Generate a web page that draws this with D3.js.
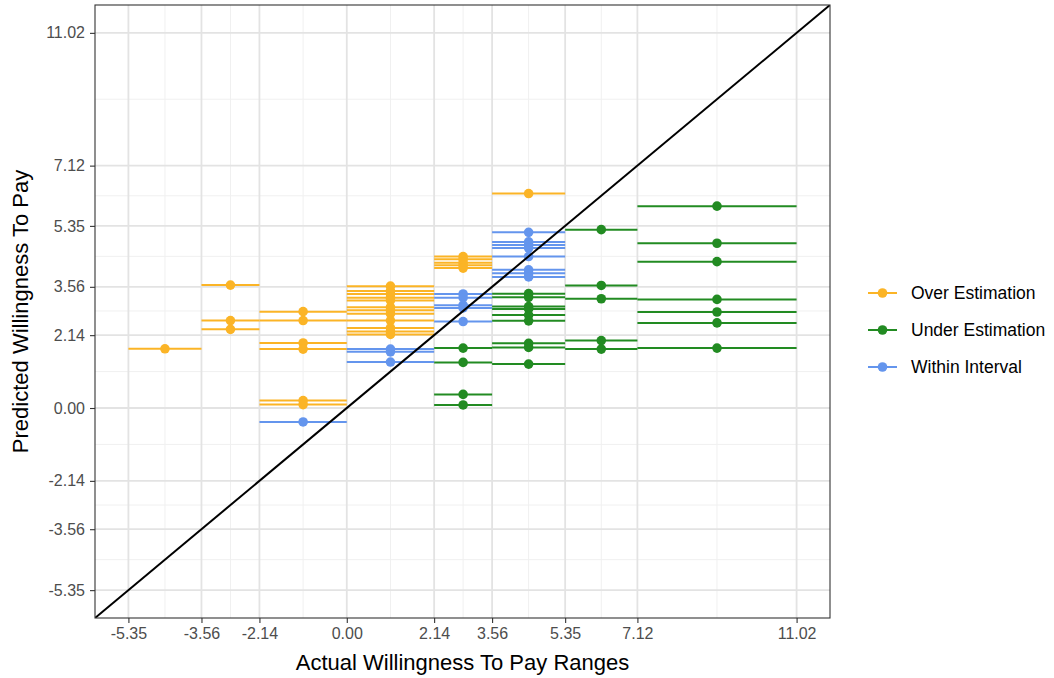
<!DOCTYPE html>
<html><head><meta charset="utf-8">
<script src="https://cdn.jsdelivr.net/npm/d3@7"></script>
<style>body{margin:0;background:#fff}svg{display:block}text{font-family:"Liberation Sans",Arial,sans-serif}</style>
</head><body><svg id="c" width="1054" height="678"></svg>
<script>
const breaks = [-5.35, -3.56, -2.14, 0.00, 2.14, 3.56, 5.35, 7.12, 11.02];
const tickLabels = ["-5.35","-3.56","-2.14","0.00","2.14","3.56","5.35","7.12","11.02"];
const categories = ["Over Estimation","Under Estimation","Within Interval"];
const colors = ["#FBB426","#228B22","#6495ED"];
// interval index -> [xmin,xmax] = [breaks[i], breaks[i+1]]
const overInterval = [0, 1,1,1, 2,2,2,2,2,2, 3,3,3,3,3,3,3,3,3,3,3,3, 4,4,4,4,4, 5];
const overValues   = [1.74, 3.61,2.57,2.31, 2.83,2.57,1.91,1.73,0.22,0.10, 3.58,3.44,3.35,3.24,3.16,2.96,2.87,2.77,2.57,2.35,2.25,2.16, 4.45,4.37,4.27,4.19,4.11, 6.30];
const underInterval = [4,4,4,4, 5,5,5,5,5,5,5,5,5, 6,6,6,6,6, 7,7,7,7,7,7,7];
const underValues   = [1.76,1.34,0.40,0.09, 3.36,3.25,2.98,2.91,2.73,2.56,1.90,1.78,1.29, 5.24,3.60,3.21,1.98,1.73, 5.93,4.84,4.30,3.19,2.82,2.50,1.76];
const withinInterval = [2, 3,3,3, 4,4,4,4,4, 5,5,5,5,5,5,5,5];
const withinValues   = [-0.41, 1.73,1.65,1.35, 3.35,3.24,3.02,2.94,2.54, 5.16,4.88,4.79,4.70,4.45,4.06,3.96,3.85];

const svg = d3.select("#c");
const L=95,R=830,T=5,B=618;
const lo=-5.35, hi=11.02, ex=(hi-lo)*0.05;
const x=d3.scaleLinear().domain([lo-ex,hi+ex]).range([L,R]);
const y=d3.scaleLinear().domain([lo-ex,hi+ex]).range([B,T]);
const minor=d3.range(breaks.length-1).map(i=>(breaks[i]+breaks[i+1])/2);

const g=svg.append("g");
g.append("rect").attr("x",L).attr("y",T).attr("width",R-L).attr("height",B-T).attr("fill","#fff");
g.selectAll(".mx").data(minor).join("line").attr("x1",d=>x(d)).attr("x2",d=>x(d)).attr("y1",T).attr("y2",B).attr("stroke","#f0f0f0").attr("stroke-width",1);
g.selectAll(".my").data(minor).join("line").attr("y1",d=>y(d)).attr("y2",d=>y(d)).attr("x1",L).attr("x2",R).attr("stroke","#f0f0f0").attr("stroke-width",1);
g.selectAll(".Mx").data(breaks).join("line").attr("x1",d=>x(d)).attr("x2",d=>x(d)).attr("y1",T).attr("y2",B).attr("stroke","#e3e3e3").attr("stroke-width",1.8);
g.selectAll(".My").data(breaks).join("line").attr("y1",d=>y(d)).attr("y2",d=>y(d)).attr("x1",L).attr("x2",R).attr("stroke","#e3e3e3").attr("stroke-width",1.8);

svg.append("clipPath").attr("id","pc").append("rect").attr("x",L).attr("y",T).attr("width",R-L).attr("height",B-T);
const series=[[overInterval,overValues],[underInterval,underValues],[withinInterval,withinValues]];
const dg=svg.append("g").attr("clip-path","url(#pc)");
series.forEach(([iv,vals],k)=>{
  const data=vals.map((v,j)=>({a:breaks[iv[j]],b:breaks[iv[j]+1],v}));
  dg.append("g").selectAll("line").data(data).join("line")
    .attr("x1",d=>x(d.a)).attr("x2",d=>x(d.b)).attr("y1",d=>y(d.v)).attr("y2",d=>y(d.v))
    .attr("stroke",colors[k]).attr("stroke-width",2);
  dg.append("g").selectAll("circle").data(data).join("circle")
    .attr("cx",d=>x((d.a+d.b)/2)).attr("cy",d=>y(d.v)).attr("r",4.8).attr("fill",colors[k]);
});
const dom=x.domain();
dg.append("line").attr("x1",x(dom[0])).attr("y1",y(dom[0])).attr("x2",x(dom[1])).attr("y2",y(dom[1])).attr("stroke","#000").attr("stroke-width",2);

svg.append("rect").attr("x",L).attr("y",T).attr("width",R-L).attr("height",B-T).attr("fill","none").attr("stroke","#333").attr("stroke-width",1.1);

const fmt=(d)=>tickLabels[breaks.indexOf(d)];
const xa=svg.append("g").attr("transform",`translate(0,${B})`).call(d3.axisBottom(x).tickValues(breaks).tickFormat(fmt).tickSize(5).tickPadding(5));
const ya=svg.append("g").attr("transform",`translate(${L},0)`).call(d3.axisLeft(y).tickValues(breaks).tickFormat(fmt).tickSize(5).tickPadding(5));
[xa,ya].forEach(a=>{a.select(".domain").remove();a.selectAll(".tick line").attr("stroke","#333").attr("stroke-width",1.1);
  a.selectAll(".tick text").attr("fill","#4d4d4d").style("font-size","16px").style("font-family","'Liberation Sans',Arial,sans-serif");});

svg.append("text").attr("x",(L+R)/2).attr("y",670).attr("text-anchor","middle").style("font-size","22px").attr("fill","#000").text("Actual Willingness To Pay Ranges");
svg.append("text").attr("transform",`translate(28,${(T+B)/2}) rotate(-90)`).attr("text-anchor","middle").style("font-size","22px").attr("fill","#000").text("Predicted Willingness To Pay");

const lg=svg.append("g");
categories.forEach((c,i)=>{
  const yy=293+i*37;
  lg.append("line").attr("x1",868).attr("x2",897).attr("y1",yy).attr("y2",yy).attr("stroke",colors[i]).attr("stroke-width",2);
  lg.append("circle").attr("cx",882.5).attr("cy",yy).attr("r",4.8).attr("fill",colors[i]);
  lg.append("text").attr("x",911).attr("y",yy+6).style("font-size","17.5px").attr("fill","#000").text(c);
});
</script></body></html>
